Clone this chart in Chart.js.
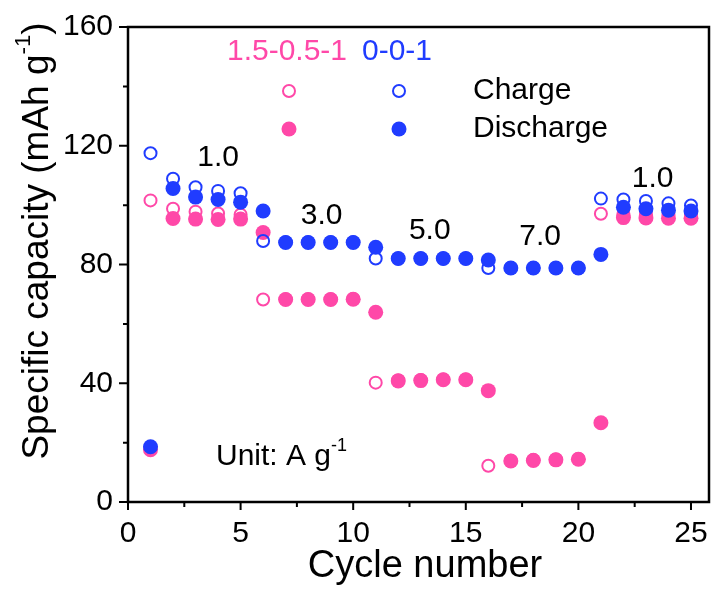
<!DOCTYPE html>
<html>
<head>
<meta charset="utf-8">
<script src="https://cdn.jsdelivr.net/npm/chart.js@4/dist/chart.umd.min.js"></script>
<style>
  html, body { margin: 0; padding: 0; background: #fff; }
  #wrap { width: 717px; height: 594px; }
</style>
</head>
<body>
<div id="wrap"><canvas id="rate-chart" width="717" height="594"></canvas></div>
<script>
const cycles = [1, 2, 3, 4, 5, 6, 7, 8, 9, 10, 11, 12, 13, 14, 15, 16, 17, 18, 19, 20, 21, 22, 23, 24, 25]
const pinkCharge = [101.6, 98.8, 97.8, 97.2, 96.8, 68.2, 68.3, 68.3, 68.3, 68.4, 40.2, 41.0, 41.1, 41.3, 41.3, 12.2, 13.9, 14.2, 14.3, 14.5, 97.1, 97.0, 96.9, 96.8, 96.8]
const pinkDischarge = [17.6, 95.5, 95.3, 95.2, 95.3, 90.8, 68.2, 68.2, 68.2, 68.3, 63.9, 40.8, 40.9, 41.2, 41.2, 37.5, 13.8, 14.0, 14.2, 14.4, 26.7, 95.8, 95.7, 95.6, 95.6]
const blueCharge = [117.5, 108.9, 106.0, 104.8, 104.0, 87.9, 87.5, 87.5, 87.5, 87.5, 82.0, 82.0, 82.0, 82.0, 82.0, 78.8, 78.8, 78.8, 78.8, 78.8, 102.2, 101.9, 101.4, 100.6, 99.9]
const blueDischarge = [18.6, 105.6, 102.7, 101.9, 101.0, 98.0, 87.4, 87.4, 87.4, 87.4, 85.8, 82.0, 82.0, 82.0, 82.0, 81.5, 78.8, 78.8, 78.8, 78.8, 83.4, 99.3, 98.8, 98.3, 98.0]

const xTicks = [0, 5, 10, 15, 20, 25]
const xMinor = [2.5, 7.5, 12.5, 17.5, 22.5]
const yTicks = [0, 40, 80, 120, 160]
const yMinor = [20, 60, 100, 140]

// current density labels: [cycle, capacity, text]
const rateLabels = [
  [4.0, 116, '1.0'],
  [8.6, 96.5, '3.0'],
  [13.4, 91.5, '5.0'],
  [18.3, 89.5, '7.0'],
  [23.3, 109, '1.0'],
]

const PINK = 'rgb(255, 72, 168)'
const BLUE = 'rgb(32, 60, 255)'
const FONT = 'Arial, "Liberation Sans", sans-serif'

const pts = (ys) => cycles.map((c, i) => ({ x: c, y: ys[i] }))

function supWidth(c, parts, size) {
  let w = 0
  parts.forEach(([t, sup]) => {
    c.font = (sup ? size * 0.6 : size) + 'px ' + FONT
    w += c.measureText(t).width
  })
  return w
}
function paintSup(c, parts, x, y, size) {
  let cx = x
  parts.forEach(([t, sup]) => {
    c.font = (sup ? size * 0.6 : size) + 'px ' + FONT
    c.fillText(t, cx, sup ? y - size * 0.38 : y)
    cx += c.measureText(t).width
  })
}

const noPad = (s) => { s.paddingTop = 0; s.paddingBottom = 0; s.paddingLeft = 0; s.paddingRight = 0 }

const decor = {
  id: 'decor',
  afterDraw(chart) {
    const c = chart.ctx
    const a = chart.chartArea
    const xs = chart.scales.x
    const ys = chart.scales.y
    c.save()
    c.strokeStyle = '#000'
    c.lineWidth = 2.5
    c.strokeRect(a.left, a.top, a.right - a.left, a.bottom - a.top)

    // ticks
    c.lineWidth = 2
    c.beginPath()
    xTicks.forEach(v => { const p = xs.getPixelForValue(v); c.moveTo(p, a.bottom); c.lineTo(p, a.bottom + 8) })
    xMinor.forEach(v => { const p = xs.getPixelForValue(v); c.moveTo(p, a.bottom); c.lineTo(p, a.bottom + 5) })
    yTicks.forEach(v => { const p = ys.getPixelForValue(v); c.moveTo(a.left, p); c.lineTo(a.left - 9, p) })
    yMinor.forEach(v => { const p = ys.getPixelForValue(v); c.moveTo(a.left, p); c.lineTo(a.left - 5, p) })
    c.stroke()

    c.fillStyle = '#000'
    c.textBaseline = 'middle'

    // axis titles
    c.font = '38px ' + FONT
    c.textAlign = 'center'
    c.fillText('Cycle number', 425, 567)

    c.save()
    c.translate(38, 241)
    c.rotate(-Math.PI / 2)
    c.textAlign = 'left'
    const yt = [['Specific capacity (mAh g', false], ['-1', true], [')', false]]
    const w = supWidth(c, yt, 37)
    paintSup(c, yt, -w / 2, 0, 37)
    c.restore()

    // rate labels
    c.font = '30px ' + FONT
    c.textAlign = 'center'
    rateLabels.forEach(([cx, cy, t]) => {
      c.fillText(t, xs.getPixelForValue(cx), ys.getPixelForValue(cy))
    })

    // unit
    c.textAlign = 'left'
    paintSup(c, [['Unit: A g', false], ['-1', true]], 216, 457, 30)

    // legend
    c.font = '30px ' + FONT
    c.textAlign = 'center'
    c.fillStyle = PINK
    c.fillText('1.5-0.5-1', 287, 52)
    c.fillStyle = BLUE
    c.fillText('0-0-1', 397, 52)
    c.fillStyle = '#000'
    c.textAlign = 'left'
    c.fillText('Charge', 473, 91)
    c.fillText('Discharge', 473, 129)

    c.lineWidth = 2
    ;[[289, PINK], [399, BLUE]].forEach(([mx, col]) => {
      c.strokeStyle = col
      c.beginPath(); c.arc(mx, 91, 6, 0, Math.PI * 2); c.stroke()
      c.fillStyle = col
      c.beginPath(); c.arc(mx, 129, 7.5, 0, Math.PI * 2); c.fill()
    })
    c.restore()
  },
}

const openSet = (data, col, order) => ({
  data: pts(data),
  order,
  showLine: false,
  pointStyle: 'circle',
  pointRadius: 6,
  pointHoverRadius: 6,
  pointBorderWidth: 2,
  pointBorderColor: col,
  pointBackgroundColor: 'rgba(255,255,255,0)',
})
const fillSet = (data, col, order) => ({
  data: pts(data),
  order,
  showLine: false,
  pointStyle: 'circle',
  pointRadius: 7.5,
  pointHoverRadius: 7.5,
  pointBorderWidth: 0,
  pointBorderColor: col,
  pointBackgroundColor: col,
})

new Chart(document.getElementById('rate-chart'), {
  type: 'scatter',
  data: {
    datasets: [
      openSet(pinkCharge, PINK, 3),
      fillSet(pinkDischarge, PINK, 2),
      openSet(blueCharge, BLUE, 1),
      fillSet(blueDischarge, BLUE, 0),
    ],
  },
  options: {
    responsive: false,
    animation: false,
    layout: { padding: { top: 27, right: 5, left: 0, bottom: 0 } },
    scales: {
      x: {
        type: 'linear',
        min: 0,
        max: 25.8,
        afterFit: (s) => { s.height = 92; noPad(s) },
        afterBuildTicks: (s) => { s.ticks = xTicks.map(v => ({ value: v })) },
        grid: { display: false, drawTicks: false },
        border: { display: false },
        ticks: {
          padding: 14,
          color: '#000',
          font: { size: 30, family: FONT },
          maxRotation: 0,
        },
      },
      y: {
        min: 0,
        max: 160,
        afterFit: (s) => { s.width = 128; noPad(s) },
        afterBuildTicks: (s) => { s.ticks = yTicks.map(v => ({ value: v })) },
        grid: { display: false, drawTicks: false },
        border: { display: false },
        ticks: {
          padding: 15,
          color: '#000',
          font: { size: 30, family: FONT },
        },
      },
    },
    plugins: {
      legend: { display: false },
      tooltip: { enabled: false },
    },
  },
  plugins: [decor],
})
</script>
</body>
</html>
